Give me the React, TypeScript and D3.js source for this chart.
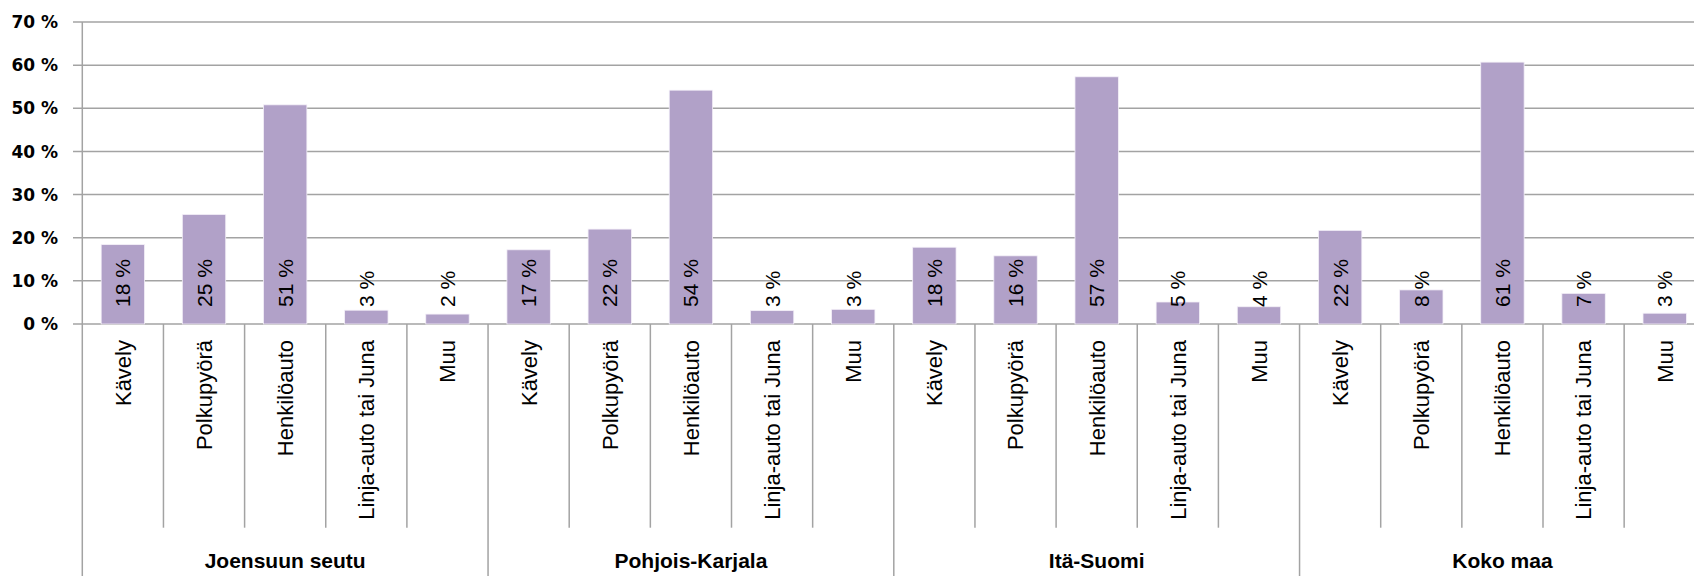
import React from "react";
import * as d3 from "d3";

const groups = ["Joensuun seutu", "Pohjois-Karjala", "Itä-Suomi", "Koko maa"];
const modes = ["Kävely", "Polkupyörä", "Henkilöauto", "Linja-auto tai Juna", "Muu"];
const joensuu = [18.4, 25.4, 50.8, 3.2, 2.3];
const pohjois = [17.2, 22.0, 54.2, 3.1, 3.4];
const ita = [17.8, 15.8, 57.3, 5.1, 4.0];
const kokoMaa = [21.7, 7.9, 60.7, 7.1, 2.5];
const yTicks = [0, 10, 20, 30, 40, 50, 60, 70];

const W = 1694;
const H = 576;
const left = 82.3;
const step = 81.15;
const top = 22;
const base = 324;

export default function App() {
  const series = [joensuu, pohjois, ita, kokoMaa];
  const data = groups.flatMap((g, gi) =>
    modes.map((m, mi) => ({ key: `${gi}-${mi}`, group: g, mode: m, value: series[gi][mi] }))
  );
  const x = d3
    .scaleBand<string>()
    .domain(data.map((d) => d.key))
    .range([left, left + step * data.length])
    .paddingInner(0.465)
    .paddingOuter(0.2325);
  const y = d3.scaleLinear().domain([0, 70]).range([base, top]);
  const grid = "#a3a3a3";
  const right = left + step * data.length;
  const bounds = d3.range(data.length + 1).map((i) => left + i * step);

  return (
    <svg
      width={W}
      height={H}
      style={{ position: "absolute", left: 0, top: 0, background: "#fff" }}
    >
      {yTicks.map((t) => (
        <g key={t}>
          <line x1={73} x2={right} y1={y(t)} y2={y(t)} stroke={grid} strokeWidth={1.5} />
          <text
            x={58}
            y={y(t)}
            dy="0.36em"
            textAnchor="end"
            fontFamily="DejaVu Sans"
            fontWeight="bold"
            fontSize={17}
            fill="#000"
          >
            {`${t} %`}
          </text>
        </g>
      ))}
      {bounds.map((bx, i) => (
        <line
          key={i}
          x1={bx}
          x2={bx}
          y1={i === 0 ? top : base}
          y2={i % 5 === 0 ? H : 527.7}
          stroke={grid}
          strokeWidth={1.5}
        />
      ))}
      {data.map((d) => {
        const bx = x(d.key)!;
        const cx = bx + x.bandwidth() / 2;
        return (
          <g key={d.key}>
            <rect
              x={bx}
              y={y(d.value)}
              width={x.bandwidth()}
              height={base - y(d.value)}
              fill="#b1a1c8"
              stroke="#f4f0f8"
              strokeWidth={0.8}
            />
            <text
              transform={`translate(${cx},${base - 17}) rotate(-90)`}
              dy="0.36em"
              textAnchor="start"
              fontFamily="Liberation Sans"
              fontSize={21}
              fill="#000"
            >
              {`${Math.round(d.value)} %`}
            </text>
            <text
              transform={`translate(${cx},340) rotate(-90)`}
              dy="0.36em"
              textAnchor="end"
              fontFamily="Liberation Sans"
              fontSize={22}
              fill="#000"
            >
              {d.mode}
            </text>
          </g>
        );
      })}
      {groups.map((g, gi) => (
        <text
          key={g}
          x={left + step * (gi * 5 + 2.5)}
          y={568}
          textAnchor="middle"
          fontFamily="Liberation Sans"
          fontWeight="bold"
          fontSize={21}
          fill="#000"
        >
          {g}
        </text>
      ))}
    </svg>
  );
}
